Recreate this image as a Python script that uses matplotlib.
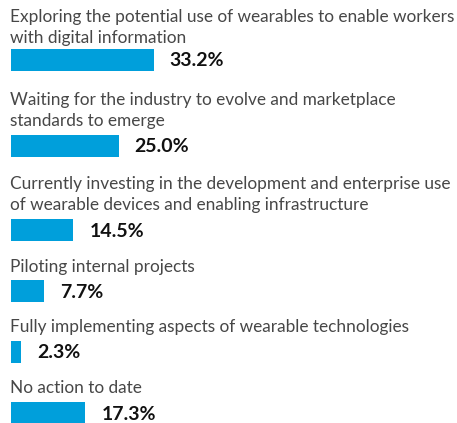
import matplotlib.pyplot as plt

labels = [
    "Exploring the potential use of wearables to enable workers\nwith digital information",
    "Waiting for the industry to evolve and marketplace\nstandards to emerge",
    "Currently investing in the development and enterprise use\nof wearable devices and enabling infrastructure",
    "Piloting internal projects",
    "Fully implementing aspects of wearable technologies",
    "No action to date",
]
values = [33.2, 25.0, 14.5, 7.7, 2.3, 17.3]

# layout in pixels (y grows downward)
bar_y = [60, 146, 230.5, 291.5, 352, 413]
text_y = [27.5, 110.5, 194.5, 267, 327, 388]

plt.rcParams['font.family'] = ['Lato', 'DejaVu Sans']

fig = plt.figure(figsize=(4.57, 4.23), dpi=100)
ax = fig.add_axes([0, 0, 1, 1])
px = 4.3  # pixels per percent
ax.set_xlim(-11 / px, (457 - 11) / px)
ax.set_ylim(423, 0)
ax.axis('off')

ax.barh(bar_y, values, height=22, left=0, color='#009fdb')
for lab, v, by, ty in zip(labels, values, bar_y, text_y):
    ax.text(-1 / px, ty, lab, fontsize=12.4, color='#474747', va='center', ha='left', linespacing=1.35)
    ax.text(v + 16 / px, by + 1, f"{v:.1f}%", fontsize=14, fontweight='bold', color='#111111', va='center', ha='left')

fig.savefig('out.png', dpi=100)
